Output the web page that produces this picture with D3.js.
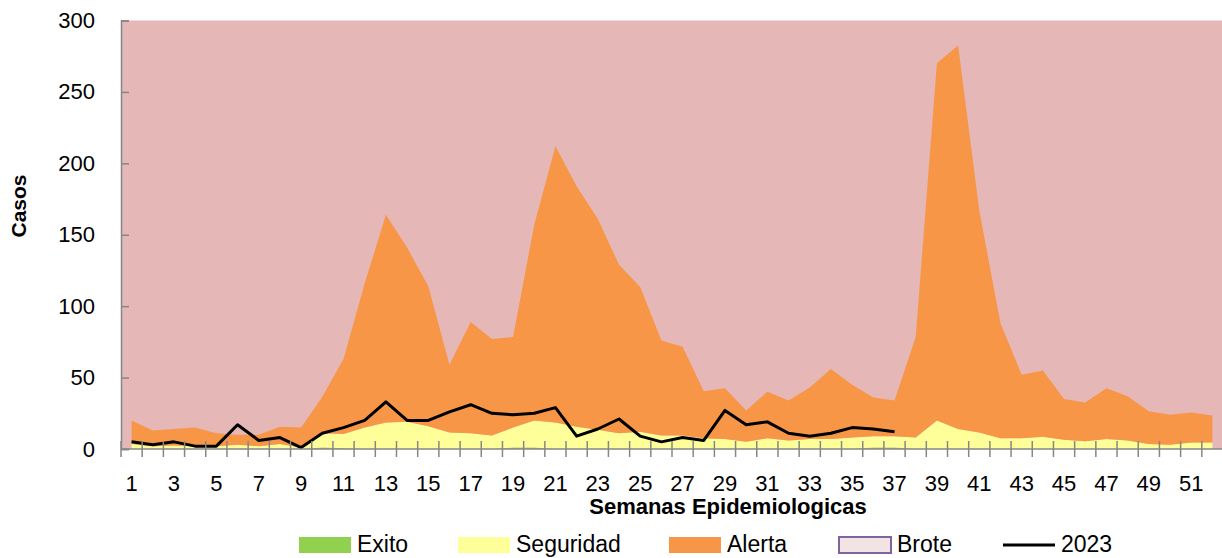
<!DOCTYPE html>
<html>
<head>
<meta charset="utf-8">
<script src="https://cdn.jsdelivr.net/npm/d3@7"></script>
<style>
  body { margin: 0; background: #fff; }
  text { font-family: "Liberation Sans", Arial, sans-serif; fill: #000; }
</style>
</head>
<body>
<svg id="chart"></svg>
<script>
// data
const weeks = d3.range(1, 53);

// upper limit of each zone, per epidemiological week (cumulative)
const exito = [0, 0, 0, 0, 0, 0, 0, 0, 0, 1,
    0.5, 0, 0, 0, 0, 0, 0, 0, 1, 1,
    0, 0, 0, 0, 0, 0, 0, 0, 0, 0,
    0, 0, 0, 0, 0, 1, 1, 0, 0, 0,
    0, 0, 0, 0, 0, 0, 0, 0, 0, 0,
    0, 0];
const seguridad = [3.5, 2, 2.5, 2, 2, 3, 2, 3.5, 1, 11,
    10.5, 15, 18.5, 19, 16, 11.5, 11, 9.5, 15, 20,
    18.5, 15.5, 13.5, 11, 12, 9.5, 9.5, 7.5, 7, 5,
    7.5, 6, 7, 7, 8, 9, 9, 8, 20, 14,
    11.5, 7.5, 7.5, 8.5, 6.5, 5.5, 7, 6, 3.5, 3,
    4.5, 4.5];
const alerta = [20, 13, 14, 15, 11, 10, 10, 15.5, 15, 36.5,
    63, 116, 164, 141, 114, 59, 89, 77, 78.5, 157,
    212, 184, 161, 129, 113.5, 76, 71.5, 40.5, 42.5, 27,
    40, 34, 43, 56, 45, 36, 34, 78.5, 270, 282.5,
    167, 88, 52, 55, 35, 32.5, 42.5, 37, 26.5, 24,
    25.5, 23.5];
// cases 2023, weeks 1..37
const casos2023 = [5, 3, 5, 2, 2, 17, 6, 8, 1, 11,
    15, 20, 33, 20, 20, 26, 31, 25, 24, 25,
    29, 9, 14, 21, 9, 5, 8, 6, 27, 17,
    19, 11, 9, 11, 15, 14, 12];

const yTicks = [0, 50, 100, 150, 200, 250, 300];
const yMax = 300;

const legendNames = ["Exito", "Seguridad", "Alerta", "Brote", "2023"];
const legendColors = ["#92d050", "#ffff99", "#f79646", "#f2e4e3", "#000000"];

var w = 1222;
var h = 558;
let margin = ({ top: 20.5, right: 0, bottom: 109, left: 121 });

var svg = d3.select("#chart")
    .attr("width", w)
    .attr("height", h);

var xScale = d3.scaleBand()
    .domain(weeks)
    .range([margin.left, 1223])
    .padding(0);

var yScale = d3.scaleLinear()
    .domain([0, yMax])
    .range([h - margin.bottom, margin.top]);

let cx = d => xScale(d) + xScale.bandwidth() / 2;

// Brote: everything above the alert zone, fills the plot area
svg.append("rect")
    .attr("x", margin.left)
    .attr("y", yScale(yMax))
    .attr("width", w - margin.left)
    .attr("height", yScale(0) - yScale(yMax))
    .attr("fill", "#e6b7b7");

let zones = [
    { lower: weeks.map(() => 0), upper: exito, color: "#92d050" },
    { lower: exito, upper: seguridad, color: "#ffff99" },
    { lower: seguridad, upper: alerta, color: "#f79646" }
];

let area = d3.area()
    .x(d => cx(d.week))
    .y0(d => yScale(d.lo))
    .y1(d => yScale(d.hi));

zones.forEach(z => {
    svg.append("path")
        .datum(weeks.map((wk, i) => ({ week: wk, lo: z.lower[i], hi: z.upper[i] })))
        .attr("d", area)
        .attr("fill", z.color);
});

// 2023 line
let line = d3.line()
    .x((d, i) => cx(weeks[i]))
    .y(d => yScale(d));

svg.append("path")
    .datum(casos2023)
    .attr("d", line)
    .attr("fill", "none")
    .attr("stroke", "#000")
    .attr("stroke-width", 3)
    .attr("stroke-linejoin", "round");

// y axis (ticks inside)
let yAxis = g => g
    .attr("transform", `translate(${margin.left},0)`)
    .call(d3.axisLeft(yScale).tickValues(yTicks).tickSize(-8).tickPadding(26))
    .call(g => g.selectAll("line, .domain").attr("stroke", "#868686").attr("stroke-width", 1.5))
    .call(g => g.selectAll("text").attr("font-size", 22).attr("font-family", "'Liberation Sans', Arial, sans-serif").attr("fill", "#000"));

svg.append("g").call(yAxis);

// x axis: labels on odd weeks, crossing ticks on band edges
let xAxis = g => g
    .attr("transform", `translate(0,${yScale(0)})`)
    .call(d3.axisBottom(xScale).tickSize(0).tickPadding(26)
        .tickFormat(d => d % 2 === 1 ? d : ""))
    .call(g => g.select(".domain").remove())
    .call(g => g.selectAll("text").attr("font-size", 22).attr("font-family", "'Liberation Sans', Arial, sans-serif").attr("fill", "#000"));

svg.append("g").call(xAxis);

let edges = weeks.map(d => xScale(d)).concat([xScale.range()[1]]);
svg.append("g")
    .selectAll("line")
    .data(edges)
    .join("line")
    .attr("x1", d => d)
    .attr("x2", d => d)
    .attr("y1", yScale(0) - 8)
    .attr("y2", yScale(0) + 8)
    .attr("stroke", "#868686")
    .attr("stroke-width", 1.5);

svg.append("line")
    .attr("x1", margin.left)
    .attr("x2", w)
    .attr("y1", yScale(0))
    .attr("y2", yScale(0))
    .attr("stroke", "#868686")
    .attr("stroke-width", 1.5);

// axis titles
svg.append("text")
    .attr("x", 728)
    .attr("y", 514)
    .attr("text-anchor", "middle")
    .attr("font-size", 22)
    .attr("font-weight", "bold")
    .text("Semanas Epidemiologicas");

svg.append("text")
    .attr("transform", "translate(26,206) rotate(-90)")
    .attr("text-anchor", "middle")
    .attr("font-size", 21)
    .attr("font-weight", "bold")
    .text("Casos");

// legend
let legendX = [299, 458, 669, 839, 1003];
let legend = svg.append("g")
    .selectAll("g")
    .data(legendNames)
    .join("g")
    .attr("transform", (d, i) => `translate(${legendX[i]},537)`);

legend.filter(d => d !== "2023")
    .append("rect")
    .attr("width", 52)
    .attr("height", 16)
    .attr("fill", d => legendColors[legendNames.indexOf(d)])
    .attr("stroke", d => d === "Brote" ? "#8064a2" : "none")
    .attr("stroke-width", 2);

legend.filter(d => d === "2023")
    .append("line")
    .attr("x1", 0)
    .attr("x2", 52)
    .attr("y1", 8)
    .attr("y2", 8)
    .attr("stroke", "#000")
    .attr("stroke-width", 3);

legend.append("text")
    .attr("x", d => d === "2023" ? 58 : 58)
    .attr("y", 15)
    .attr("font-size", 23)
    .text(d => d);
</script>
</body>
</html>
